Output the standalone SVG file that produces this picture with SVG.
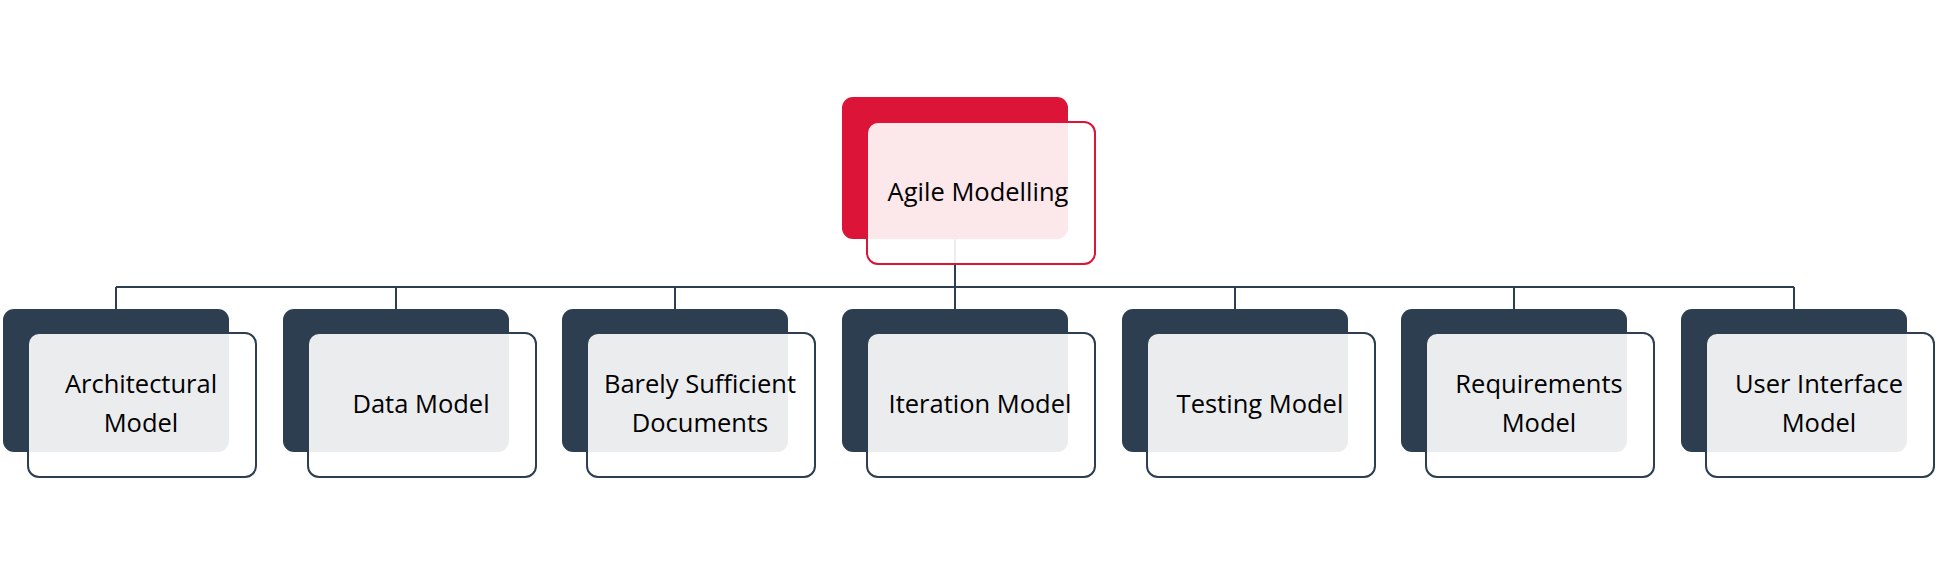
<svg xmlns="http://www.w3.org/2000/svg" width="1936" height="573" viewBox="0 0 1936 573">
  <style>
    .back { fill: #2D3E50; }
    .back-top { fill: #DC1437; }
    .front { fill: #FFFFFF; fill-opacity: 0.9; stroke: #2D3E50; stroke-width: 2; }
    .front-top { fill: #FFFFFF; fill-opacity: 0.9; stroke: #DC1437; stroke-width: 2; }
    .conn { fill: none; stroke: #2D3E50; stroke-width: 2; }
    .lbl { font-family: "Open Sans", "Noto Sans", "DejaVu Sans", sans-serif; font-size: 25.5px; fill: #000000; text-anchor: middle; }
  </style>
  <rect width="1936" height="573" fill="#FFFFFF"/>
  <g id="connectors">
    <line class="conn" x1="955" y1="239" x2="955" y2="309"/>
    <line class="conn" x1="116" y1="287" x2="1794" y2="287"/>
    <line class="conn" x1="116" y1="287" x2="116" y2="309"/>
    <line class="conn" x1="396" y1="287" x2="396" y2="309"/>
    <line class="conn" x1="675" y1="287" x2="675" y2="309"/>
    <line class="conn" x1="1235" y1="287" x2="1235" y2="309"/>
    <line class="conn" x1="1514" y1="287" x2="1514" y2="309"/>
    <line class="conn" x1="1794" y1="287" x2="1794" y2="309"/>
  </g>
  <g id="node-agile-modelling">
    <rect class="back-top" x="842" y="97" width="226" height="142" rx="11"/>
    <rect class="front-top" x="867" y="122" width="228" height="142" rx="11"/>
    <text class="lbl" x="978" y="201">Agile Modelling</text>
  </g>
  <g id="node-architectural-model">
    <rect class="back" x="3" y="309" width="226" height="143" rx="11"/>
    <rect class="front" x="28" y="333" width="228" height="144" rx="11"/>
    <text class="lbl" x="141" y="393">Architectural</text>
    <text class="lbl" x="141" y="432">Model</text>
  </g>
  <g id="node-data-model">
    <rect class="back" x="283" y="309" width="226" height="143" rx="11"/>
    <rect class="front" x="308" y="333" width="228" height="144" rx="11"/>
    <text class="lbl" x="421" y="413">Data Model</text>
  </g>
  <g id="node-barely-sufficient-documents">
    <rect class="back" x="562" y="309" width="226" height="143" rx="11"/>
    <rect class="front" x="587" y="333" width="228" height="144" rx="11"/>
    <text class="lbl" x="700" y="393">Barely Sufficient</text>
    <text class="lbl" x="700" y="432">Documents</text>
  </g>
  <g id="node-iteration-model">
    <rect class="back" x="842" y="309" width="226" height="143" rx="11"/>
    <rect class="front" x="867" y="333" width="228" height="144" rx="11"/>
    <text class="lbl" x="980" y="413">Iteration Model</text>
  </g>
  <g id="node-testing-model">
    <rect class="back" x="1122" y="309" width="226" height="143" rx="11"/>
    <rect class="front" x="1147" y="333" width="228" height="144" rx="11"/>
    <text class="lbl" x="1260" y="413">Testing Model</text>
  </g>
  <g id="node-requirements-model">
    <rect class="back" x="1401" y="309" width="226" height="143" rx="11"/>
    <rect class="front" x="1426" y="333" width="228" height="144" rx="11"/>
    <text class="lbl" x="1539" y="393">Requirements</text>
    <text class="lbl" x="1539" y="432">Model</text>
  </g>
  <g id="node-user-interface-model">
    <rect class="back" x="1681" y="309" width="226" height="143" rx="11"/>
    <rect class="front" x="1706" y="333" width="228" height="144" rx="11"/>
    <text class="lbl" x="1819" y="393">User Interface</text>
    <text class="lbl" x="1819" y="432">Model</text>
  </g>
</svg>
